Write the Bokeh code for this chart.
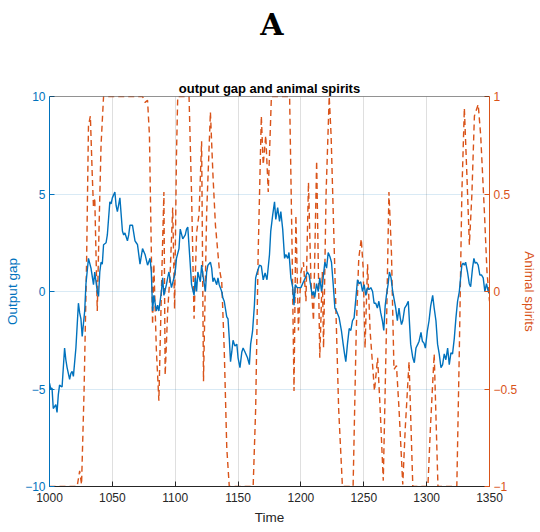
from bokeh.plotting import figure
from bokeh.models import Range1d, LinearAxis, FixedTicker, Span, Div
from bokeh.layouts import column
from bokeh.embed import file_html
from bokeh.resources import INLINE

# ---------------- data ----------------
time_gap = [1000, 1001, 1002, 1003, 1004, 1005, 1006, 1007, 1008, 1009, 1010, 1012, 1013, 1014, 1016,
            1017, 1018, 1019, 1021, 1023, 1024, 1025, 1026, 1028, 1029, 1031, 1033, 1035, 1036, 1038,
            1039, 1040, 1041, 1042, 1043, 1045, 1046, 1048, 1049, 1050, 1052, 1053, 1054, 1056, 1058,
            1059, 1060, 1062, 1063, 1064, 1066, 1068, 1069, 1070, 1072, 1074, 1076, 1078, 1080, 1081,
            1082, 1083, 1085, 1086, 1087, 1089, 1090, 1091, 1093, 1094, 1095, 1097, 1099, 1100, 1101,
            1103, 1104, 1106, 1108, 1109, 1110, 1112, 1113, 1115, 1116, 1117, 1118, 1120, 1121, 1122,
            1124, 1125, 1126, 1128, 1129, 1130, 1131, 1133, 1134, 1135, 1137, 1138, 1139, 1141, 1142,
            1143, 1144, 1145, 1146, 1147.5, 1149, 1150, 1151.5, 1153, 1154, 1155.5, 1157.5, 1159, 1160,
            1161.5, 1163, 1164, 1165, 1167, 1168.5, 1170, 1171.5, 1173, 1175, 1176, 1177.5, 1179, 1180,
            1181.5, 1183, 1184, 1185.5, 1187, 1188, 1189.5, 1190.5, 1192, 1193.5, 1194.5, 1195.5, 1197,
            1199, 1200, 1202, 1203.5, 1205, 1206.5, 1208, 1209, 1210, 1211, 1212.4, 1213.8, 1215, 1216.4,
            1217.7, 1219, 1220.4, 1221.7, 1223, 1224.3, 1225.7, 1227, 1228.3, 1230.4, 1232.3, 1233.6,
            1234.7, 1235.7, 1237, 1238.4, 1239.7, 1241, 1242.3, 1243.7, 1245, 1246.3, 1247.6, 1249,
            1250.3, 1251.6, 1253, 1254.2, 1255.6, 1257, 1258.2, 1259.5, 1260.8, 1262, 1263.5, 1264.8,
            1265.9, 1267, 1268, 1269.3, 1270.4, 1271.7, 1273, 1274, 1275.4, 1276.7, 1278, 1279, 1280,
            1281, 1282.5, 1284, 1285.4, 1286, 1287.3, 1289, 1290.2, 1291.5, 1293, 1294, 1295.5, 1296.6,
            1297.9, 1299, 1300.5, 1301.9, 1303.2, 1304.8, 1306, 1307.4, 1308.7, 1310, 1311.4, 1312.7,
            1314, 1315.3, 1316.7, 1318, 1319.3, 1320.6, 1322, 1323.3, 1324.6, 1326, 1327, 1328, 1329,
            1330, 1331, 1332.5, 1333.9, 1335, 1336.5, 1337.6, 1338.6, 1339.7, 1341, 1342.3, 1343.6,
            1345, 1346.3, 1347.6, 1349, 1350]
output_gap = [-4.7, -5.0, -4.95, -6.0, -5.9, -5.8, -6.2, -5.3, -4.8, -4.85, -4.9, -2.9, -3.5, -3.9, -4.5,
              -4.2, -4.1, -4.35, -2.9, -0.6, -1.1, -1.4, -2.3, -1.0, 0.4, 1.7, 1.2, 0.35, 1.0, 0.0,
              -0.25, 1.0, 1.5, 1.4, 2.4, 2.5, 2.9, 4.6, 4.5, 4.8, 5.1, 4.4, 4.1, 4.8, 3.1,
              2.9, 3.0, 2.6, 2.9, 3.4, 3.4, 2.6, 2.5, 2.4, 1.4, 2.2, 1.9, 1.35, 1.7, 1.0,
              -1.0, -0.2, -1.0, -0.7, -1.0, 0.0, 0.7, -0.2, 0.35, 0.7, 1.0, 0.2, 0.7, 1.0, 1.7,
              2.2, 3.2, 2.7, 2.9, 3.2, 3.3, 1.35, 0.35, -0.2, 0.7, 0.0, 1.0, 0.5, 1.35, 0.85,
              0.0, 1.0, 1.35, 1.5, 1.2, 0.5, 0.7, 0.35, 0.7, 0.35, 0.0, -0.35, -0.5, -1.3, -1.4,
              -2.4, -3.6, -3.1, -2.5, -2.8, -2.7, -3.4, -3.9, -3.1, -2.9, -3.1, -3.4, -3.75, -2.7,
              -2.05, -0.7, 0.7, 0.95, 1.35, 1.3, 0.6, 0.95, 0.6, 1.9, 3.1, 3.9, 4.6, 3.7,
              4.3, 3.6, 4.1, 3.2, 1.7, 1.9, 1.7, 2.0, 0.7, 0.2, -0.7, 0.35, 0.2,
              0.2, 0.2, 0.5, 0.7, 1.0, 0.85, 0.2, -0.2, 0.0, -0.3, 0.4, 0.0, 0.7, 0.0,
              0.7, 1.5, 1.2, 2.0, 1.8, 1.5, 0.35, -0.85, -1.0, -1.35, -2.05, -2.7,
              -3.2, -3.6, -2.7, -1.9, -2.0, -1.5, -1.35, -0.35, 0.6, 0.4, 0.5, 0.0,
              0.35, -0.2, 0.2, 0.1, 0.2, 0.0, -0.6, -0.6, -0.85, -0.5, -1.1, -1.5,
              -2.0, -0.75, -0.2, 0.35, 1.0, 0.7, 0.0, -0.35, -0.85, -1.5, -0.85, -1.35, -1.7,
              -1.5, -0.85, -0.7, -0.5, -1.2, -2.7, -3.4, -3.65, -2.9, -2.7, -2.55, -2.1, -2.55,
              -2.65, -2.9, -2.05, -1.5, -0.75, -0.2, -0.85, -1.5, -2.7, -3.2, -3.9, -3.75,
              -3.2, -3.5, -2.9, -3.75, -3.15, -3.2, -2.4, -1.35, -0.5, 0.0, 0.7, 1.35, 1.45,
              1.35, 1.5, 1.0, 0.4, 0.25, 1.2, 1.7, 1.45, 1.5, 1.35, 0.85, 0.85,
              0.7, 0.0, 0.4, 0.0, -0.1]

time_spirits = [1000, 1022, 1024, 1025.5, 1027.5, 1029.5, 1031, 1032.5, 1034, 1035, 1036, 1038, 1039.5,
                1041, 1043, 1074, 1076, 1078, 1079.5, 1081, 1082, 1083, 1085, 1087, 1089, 1091, 1092,
                1094, 1096, 1098, 1099.5, 1101, 1102, 1111, 1113, 1115, 1117, 1119, 1121, 1122.5, 1125,
                1128, 1130, 1132, 1135, 1137, 1139, 1141, 1143, 1162, 1164, 1166, 1168.5, 1170, 1172,
                1174, 1176.5, 1191, 1193, 1194.5, 1196, 1198, 1200, 1202, 1204, 1206, 1208, 1210,
                1212.5, 1215, 1217, 1218, 1220, 1222.5, 1224, 1227, 1230, 1233, 1241.5, 1244, 1246,
                1248, 1249.5, 1251, 1253, 1255, 1258.5, 1261, 1263, 1265.5, 1268, 1270, 1272, 1274,
                1276, 1278, 1281, 1283, 1286, 1289, 1301, 1303, 1306, 1309, 1324, 1326, 1328, 1330,
                1332, 1334, 1336, 1338, 1341, 1343, 1346, 1348, 1350]
animal_spirits = [-1, -1, -0.92, -0.99, -0.51, 0.15, 0.85, 0.9, 0.6, 0.43, 0.48, -0.1, 0.35,
                  0.75, 1, 1, 0.97, 0.98, 0.8, 0.2, -0.17, 0.14, -0.3, -0.56, 0.0, 0.51, -0.43,
                  -0.1, 0.1, 0.43, -0.09, 0.7, 1, 1, 0.5, -0.14, 0.3, 0.4, 0.77, -0.46, 0.4,
                  0.92, 0.6, 0.34, 0.12, 0.05, -0.3, -0.8, -1, -1, -0.6, 0.2, 0.9, 0.65, 0.8,
                  0.51, 1, 1, 0.2, -0.51, 0.39, -0.2, 0.1, 0.15, -0.05, 0.56, 0.05, -0.15,
                  0.67, -0.34, 0.1, -0.29, 0.5, 1, 0.8, 0.1, -0.6, -1, -1, -0.2, 0.17,
                  0.27, 0.12, -0.29, 0.14, -0.2, -0.51, -0.34, -0.6, -0.97, -0.2, 0.51, 0.2, -0.4,
                  -0.38, -0.6, -0.99, -0.7, -0.36, -1, -1, -0.7, -0.32, -1, -1, -0.3, 0.5, 0.94,
                  0.6, 0.24, 0.5, 0.9, 0.96, 0.8, 0.4, 0.1, -0.05]

x_ticks = [1000, 1050, 1100, 1150, 1200, 1250, 1300, 1350]
gap_ticks = [-10, -5, 0, 5, 10]
spirit_ticks = [-1, -0.5, 0, 0.5, 1]

title_text = "output gap and animal spirits"
panel_letter = "A"

# ---------------- styling ----------------
BLUE = "#0072BD"
ORANGE = "#D95319"
DARK = "#262626"
FONT = "Liberation Sans"

letter = Div(text=panel_letter, width=540, height=50, margin=0,
             styles={"font-family": "DejaVu Serif", "font-size": "30px", "font-weight": "bold",
                     "color": "black", "text-align": "center", "line-height": "50px",
                     "padding-left": "4px", "box-sizing": "border-box", "width": "540px",
                     "background-color": "white"})

p = figure(width=540, height=482, output_backend="svg", toolbar_location=None,
           x_range=Range1d(1000, 1350), y_range=Range1d(-10, 10),
           min_border_left=49, min_border_right=49, min_border_top=46, min_border_bottom=46,
           background_fill_color="white", border_fill_color="white", margin=0)
p.extra_y_ranges = {"spirits": Range1d(-1, 1)}
p.outline_line_color = None

p.title.text = title_text
p.title.align = "center"
p.title.text_font = FONT
p.title.text_font_size = "13px"
p.title.text_font_style = "bold"
p.title.text_color = "black"
p.title.standoff = 2

# grids
p.xgrid.ticker = FixedTicker(ticks=x_ticks)
p.xgrid.grid_line_color = DARK
p.xgrid.grid_line_alpha = 0.15
p.ygrid.ticker = FixedTicker(ticks=gap_ticks)
p.ygrid.grid_line_color = BLUE
p.ygrid.grid_line_alpha = 0.15

# bottom axis
xa = p.xaxis[0]
xa.ticker = FixedTicker(ticks=x_ticks)
xa.axis_label = "Time"
xa.axis_line_color = DARK
xa.major_tick_line_color = DARK
xa.major_tick_in = 5
xa.major_tick_out = 0
xa.minor_tick_line_color = None
xa.major_label_text_font = FONT
xa.major_label_text_font_size = "12px"
xa.major_label_text_color = DARK
xa.major_label_standoff = 6
xa.axis_label_text_font = FONT
xa.axis_label_text_font_size = "13.5px"
xa.axis_label_text_font_style = "normal"
xa.axis_label_text_color = DARK
xa.axis_label_standoff = 5

# left axis
ya = p.yaxis[0]
ya.ticker = FixedTicker(ticks=gap_ticks)
ya.axis_label = "Output gap"
ya.axis_line_color = BLUE
ya.major_tick_line_color = BLUE
ya.major_tick_in = 5
ya.major_tick_out = 0
ya.minor_tick_line_color = None
ya.major_label_text_font = FONT
ya.major_label_text_font_size = "12px"
ya.major_label_text_color = BLUE
ya.major_label_standoff = 4
ya.axis_label_text_font = FONT
ya.axis_label_text_font_size = "13.5px"
ya.axis_label_text_font_style = "normal"
ya.axis_label_text_color = BLUE
ya.axis_label_standoff = 2

# right axis
ra = LinearAxis(y_range_name="spirits", ticker=FixedTicker(ticks=spirit_ticks))
ra.axis_label = "Animal spirits"
ra.axis_line_color = ORANGE
ra.major_tick_line_color = ORANGE
ra.major_tick_in = 5
ra.major_tick_out = 0
ra.minor_tick_line_color = None
ra.major_label_text_font = FONT
ra.major_label_text_font_size = "12px"
ra.major_label_text_color = ORANGE
ra.major_label_standoff = 4
ra.axis_label_text_font = FONT
ra.axis_label_text_font_size = "13.5px"
ra.axis_label_text_font_style = "normal"
ra.axis_label_text_color = ORANGE
ra.axis_label_standoff = 2
p.add_layout(ra, "right")

# top border
p.add_layout(Span(location=10, dimension="width", line_color=DARK, line_width=1))

# data
p.line(time_spirits, animal_spirits, y_range_name="spirits", line_color=ORANGE,
       line_width=1.4, line_dash="6 4")
p.line(time_gap, output_gap, line_color=BLUE, line_width=1.4)

layout = column(letter, p, spacing=0, margin=0)

open("out.html", "w").write(file_html(layout, INLINE))
